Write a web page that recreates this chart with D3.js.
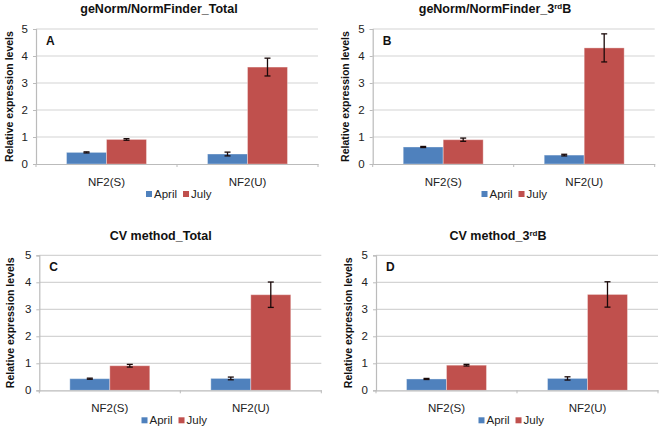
<!DOCTYPE html>
<html><head><meta charset="utf-8">
<script src="https://cdn.jsdelivr.net/npm/d3@7/dist/d3.min.js"></script>
<style>body{margin:0;background:#fff}svg{display:block}text{font-family:"Liberation Sans",Arial,sans-serif}</style>
</head><body><svg id="c" width="661" height="435"></svg>
<script>
const categories = ["NF2(S)", "NF2(U)"];
const seriesNames = ["April", "July"];
const yTicks = [0, 1, 2, 3, 4, 5];
const panelLetters = ["A", "B", "C", "D"];
const titleMain = ["geNorm/NormFinder_", "geNorm/NormFinder_3", "CV method_", "CV method_3"];
const titleSup = ["", "rd", "", "rd"];
const titleEnd = ["Total", "B", "Total", "B"];
const aprilA = [0.43, 0.37], aprilErrA = [0.02, 0.07];
const julyA = [0.91, 3.59], julyErrA = [0.03, 0.33];
const aprilB = [0.63, 0.33], aprilErrB = [0.02, 0.03];
const julyB = [0.90, 4.30], julyErrB = [0.06, 0.52];
const aprilC = [0.43, 0.44], aprilErrC = [0.02, 0.05];
const julyC = [0.91, 3.54], julyErrC = [0.05, 0.47];
const aprilD = [0.42, 0.44], aprilErrD = [0.02, 0.06];
const julyD = [0.93, 3.55], julyErrD = [0.03, 0.47];

const values = [[aprilA, julyA], [aprilB, julyB], [aprilC, julyC], [aprilD, julyD]];
const errors = [[aprilErrA, julyErrA], [aprilErrB, julyErrB], [aprilErrC, julyErrC], [aprilErrD, julyErrD]];
const colors = ["#4F81BD", "#C0504D"];

const layout = [
  {left: 36, top: 29, titleX: 159, titleY: 13, ylabX: 8.7, legX: 146},
  {left: 372.7, top: 29, titleX: 495, titleY: 13, ylabX: 345, legX: 481.5},
  {left: 39.3, top: 255.3, titleX: 160.7, titleY: 239.5, ylabX: 10, legX: 141.5},
  {left: 376, top: 255.3, titleX: 498, titleY: 239.5, ylabX: 347.7, legX: 478.5}
];
const W = 282, H = 135;
const svg = d3.select("#c");

layout.forEach((L, p) => {
  const g = svg.append("g");
  const x = d3.scaleBand().domain(categories).range([L.left, L.left + W]).paddingInner(0.433).paddingOuter(0.2165);
  const xs = d3.scaleBand().domain(seriesNames).range([0, x.bandwidth()]);
  const y = d3.scaleLinear().domain([0, 5]).range([L.top + H, L.top]);

  g.selectAll(".grid").data(yTicks.filter(t => t > 0)).join("line")
    .attr("x1", L.left).attr("x2", L.left + W)
    .attr("y1", d => y(d)).attr("y2", d => y(d))
    .attr("stroke", "#d4d4d4").attr("stroke-width", 1.2);

  const ya = g.append("g").attr("transform", `translate(${L.left},0)`)
    .call(d3.axisLeft(y).tickValues(yTicks).tickSize(3).tickPadding(5).tickFormat(d3.format("d")));
  ya.select(".domain").attr("stroke", "#bbbbbb").attr("stroke-width", 1.2);
  ya.selectAll(".tick line").attr("stroke", "#bbbbbb");
  ya.selectAll("text").attr("font-size", 11.5).attr("fill", "#222").style("font-family", '"Liberation Sans",Arial,sans-serif');

  seriesNames.forEach((s, si) => {
    g.selectAll(".bar" + si).data(categories).join("rect")
      .attr("x", c => x(c) + xs(s))
      .attr("width", xs.bandwidth())
      .attr("y", (c, i) => y(values[p][si][i]))
      .attr("height", (c, i) => y(0) - y(values[p][si][i]))
      .attr("fill", colors[si])
      .attr("stroke", "rgba(255,255,255,0.35)").attr("stroke-width", 1);
    const eg = g.selectAll(".err" + si).data(categories).join("g");
    eg.each(function(c, i) {
      const cx = x(c) + xs(s) + xs.bandwidth() / 2;
      const v = values[p][si][i], e = errors[p][si][i];
      const e1 = d3.select(this);
      e1.append("line").attr("x1", cx).attr("x2", cx).attr("y1", y(v + e)).attr("y2", y(v - e));
      e1.append("line").attr("x1", cx - 3).attr("x2", cx + 3).attr("y1", y(v + e)).attr("y2", y(v + e));
      e1.append("line").attr("x1", cx - 3).attr("x2", cx + 3).attr("y1", y(v - e)).attr("y2", y(v - e));
    });
    eg.selectAll("line").attr("stroke", "#1a0a0a").attr("stroke-width", 1.3);
  });

  const xa = g.append("g").attr("transform", `translate(0,${y(0)})`)
    .call(d3.axisBottom(x).tickSize(0).tickPadding(14));
  xa.select(".domain").attr("stroke", "#bbbbbb").attr("stroke-width", 1.2);
  xa.selectAll("text").attr("font-size", 11.5).attr("fill", "#222").style("font-family", '"Liberation Sans",Arial,sans-serif');
  [L.left, L.left + W / 2, L.left + W].forEach(tx => {
    xa.append("line").attr("x1", tx).attr("x2", tx).attr("y1", 0).attr("y2", 3).attr("stroke", "#bbbbbb");
  });

  g.append("text").attr("x", L.left + 10).attr("y", L.top + 16)
    .attr("font-size", 12).attr("font-weight", "bold").attr("fill", "#111").text(panelLetters[p]);

  const t = g.append("text").attr("x", L.titleX).attr("y", L.titleY).attr("text-anchor", "middle")
    .attr("font-size", 12.5).attr("font-weight", "bold").attr("fill", "#111");
  t.append("tspan").text(titleMain[p]);
  if (titleSup[p]) {
    t.append("tspan").attr("font-size", 8).attr("dy", -4).text(titleSup[p]);
    t.append("tspan").attr("dy", 4).text(titleEnd[p]);
  } else {
    t.append("tspan").text(titleEnd[p]);
  }

  g.append("text").attr("transform", `translate(${L.ylabX + 4},${L.top + H / 2}) rotate(-90)`)
    .attr("text-anchor", "middle").attr("font-size", 10.5).attr("font-weight", "bold").attr("fill", "#111")
    .text("Relative expression levels");

  const lg = g.append("g").attr("transform", `translate(${L.legX},${y(0) + 30})`);
  let lx = 0;
  seriesNames.forEach((s, si) => {
    lg.append("rect").attr("x", lx).attr("y", -3).attr("width", 6).attr("height", 6).attr("fill", colors[si]);
    const tx = lg.append("text").attr("x", lx + 8).attr("y", 4).attr("font-size", 11.5).attr("fill", "#222").text(s);
    lx += 8 + tx.node().getComputedTextLength() + 6;
  });
});
</script></body></html>
